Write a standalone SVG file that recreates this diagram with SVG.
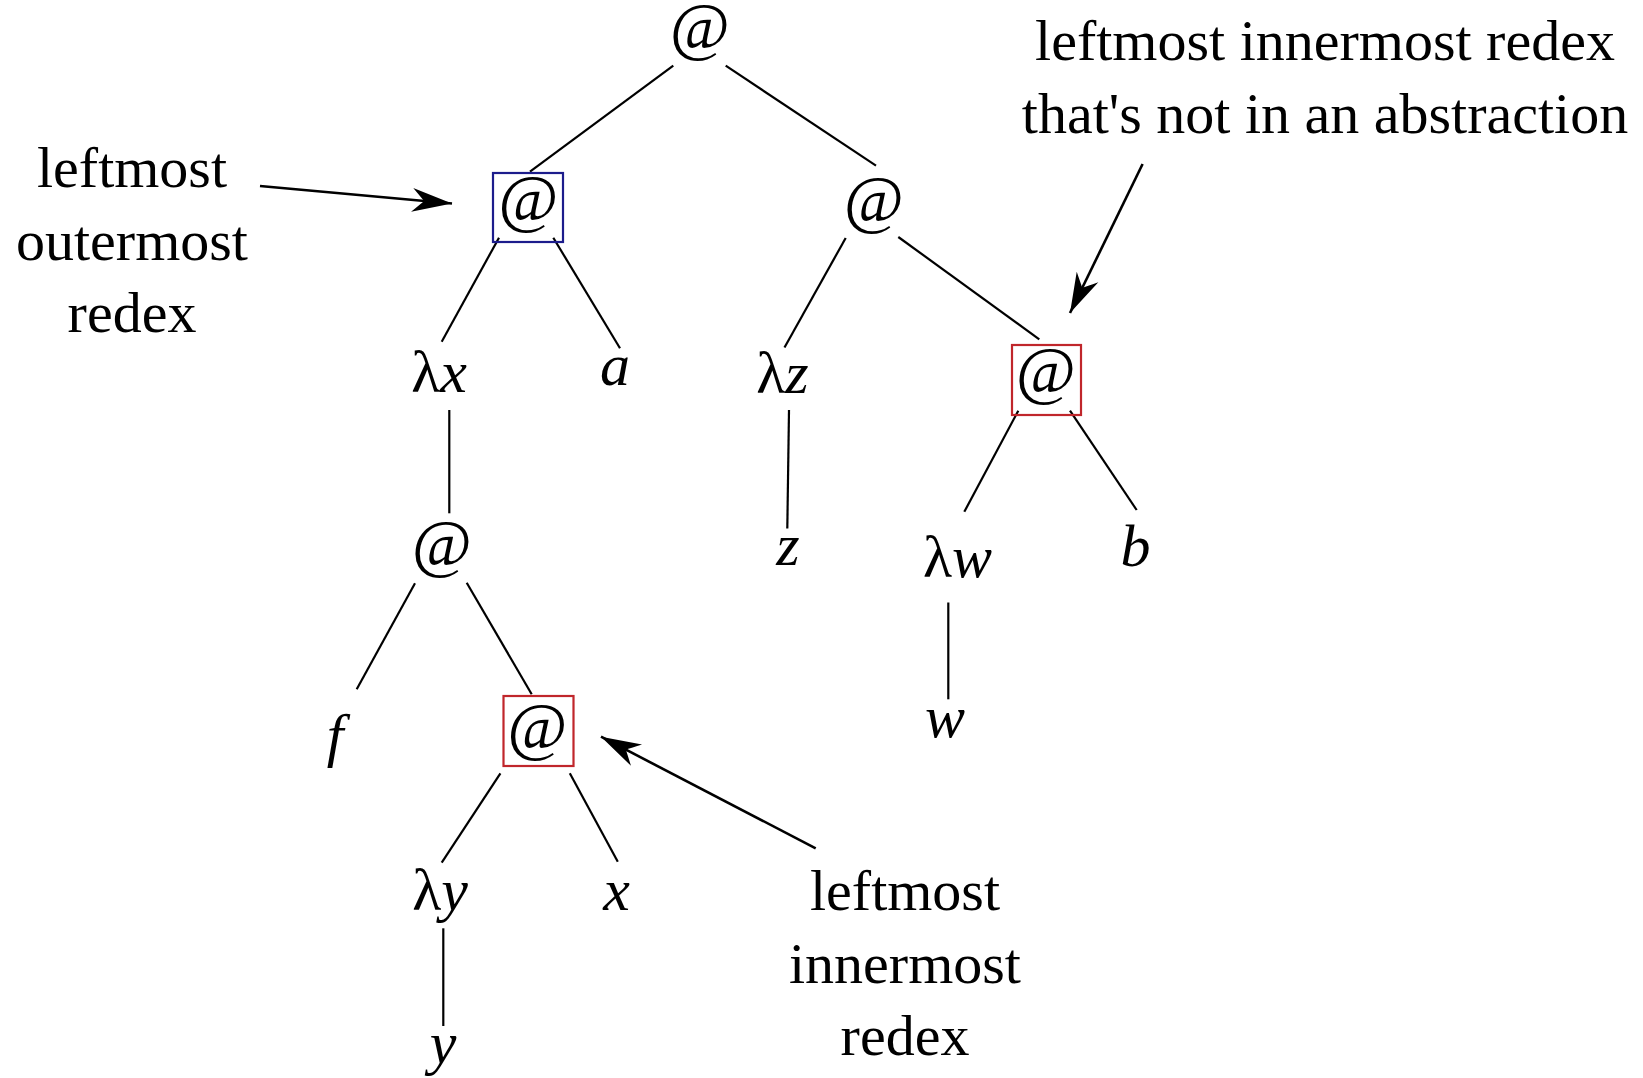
<svg xmlns="http://www.w3.org/2000/svg" width="1643" height="1078" viewBox="0 0 1643 1078">
  <style>
    .at { font-family: "Liberation Serif", "Times New Roman", serif; font-size: 65px; text-anchor: middle; fill: #000; }
    .var { font-family: "Liberation Serif", "Times New Roman", serif; font-size: 60px; text-anchor: middle; fill: #000; }
    .var .it { font-style: italic; }
    .note { font-family: "Liberation Serif", "Times New Roman", serif; font-size: 58px; text-anchor: middle; fill: #000; }
    .edge { stroke: #000; stroke-width: 2.2; fill: none; }
    .pointer { stroke: #000; stroke-width: 2.6; fill: none; marker-end: url(#head); }
    .outer { fill: none; stroke: #1c1c8c; stroke-width: 2.2; }
    .inner { fill: none; stroke: #c0262b; stroke-width: 2.2; }
  </style>
  <defs>
    <marker id="head" markerUnits="userSpaceOnUse" viewBox="-42 -14 44 28" refX="0" refY="0" markerWidth="44" markerHeight="28" orient="auto">
      <path d="M0,0 L-40,-12 Q-31,-3 -28,0 Q-31,3 -40,12 Z" fill="#000"/>
    </marker>
  </defs>
  <rect width="1643" height="1078" fill="#fff"/>

  <!-- tree edges and annotation arrows -->
  <g id="connectors">
    <line class="edge" x1="673.3" y1="65.7" x2="530" y2="171.7"/>
    <line class="edge" x1="725.7" y1="65.7" x2="876" y2="165.7"/>
    <line class="edge" x1="499" y1="237.7" x2="441.7" y2="341.7"/>
    <line class="edge" x1="553.3" y1="237.7" x2="620" y2="348.3"/>
    <line class="edge" x1="845.7" y1="238" x2="784.5" y2="347.5"/>
    <line class="edge" x1="898.3" y1="237" x2="1039.3" y2="339.3"/>
    <line class="edge" x1="449.3" y1="410" x2="449.3" y2="513.3"/>
    <line class="edge" x1="789" y1="410" x2="787.3" y2="528.6"/>
    <line class="edge" x1="1018.3" y1="410.7" x2="964.3" y2="511.8"/>
    <line class="edge" x1="1070" y1="410.7" x2="1136.7" y2="510"/>
    <line class="edge" x1="415" y1="583.3" x2="356.7" y2="689.3"/>
    <line class="edge" x1="466.7" y1="582.7" x2="531.7" y2="694.3"/>
    <line class="edge" x1="948.3" y1="602.5" x2="948.3" y2="699.3"/>
    <line class="edge" x1="500.4" y1="773.3" x2="441.7" y2="862.7"/>
    <line class="edge" x1="569.8" y1="773.3" x2="617.8" y2="861.7"/>
    <line class="edge" x1="443.3" y1="928.3" x2="443.3" y2="1026"/>
    <line class="pointer" x1="260" y1="186" x2="452" y2="203.5"/>
    <line class="pointer" x1="1142.6" y1="164" x2="1070" y2="313"/>
    <line class="pointer" x1="815.7" y1="848.3" x2="601" y2="736.7"/>
  </g>

  <!-- application nodes -->
  <g id="app-root"><text class="at" x="700" y="48">@</text></g>
  <g id="app-left">
    <rect class="outer" x="493" y="173" width="70" height="69"/>
    <text class="at" x="528.5" y="219.5">@</text>
  </g>
  <g id="app-right"><text class="at" x="874" y="220.5">@</text></g>
  <g id="app-right-inner">
    <rect class="inner" x="1012" y="345" width="69" height="70"/>
    <text class="at" x="1046" y="392">@</text>
  </g>
  <g id="app-body"><text class="at" x="442" y="564.7">@</text></g>
  <g id="app-left-inner">
    <rect class="inner" x="503.5" y="696" width="70" height="70"/>
    <text class="at" x="537.5" y="748">@</text>
  </g>

  <!-- abstractions and variables -->
  <g id="lam-x"><text class="var" x="439" y="392">λ<tspan class="it">x</tspan></text></g>
  <g id="var-a"><text class="var" x="615" y="385"><tspan class="it">a</tspan></text></g>
  <g id="lam-z"><text class="var" x="782.5" y="393">λ<tspan class="it">z</tspan></text></g>
  <g id="var-z"><text class="var" x="788" y="565"><tspan class="it">z</tspan></text></g>
  <g id="lam-w"><text class="var" x="957.5" y="577">λ<tspan class="it">w</tspan></text></g>
  <g id="var-b"><text class="var" x="1135.5" y="566"><tspan class="it">b</tspan></text></g>
  <g id="var-f"><text class="var" x="335" y="755"><tspan class="it">f</tspan></text></g>
  <g id="var-w"><text class="var" x="945" y="737"><tspan class="it">w</tspan></text></g>
  <g id="lam-y"><text class="var" x="440" y="910">λ<tspan class="it">y</tspan></text></g>
  <g id="var-x"><text class="var" x="616.5" y="910"><tspan class="it">x</tspan></text></g>
  <g id="var-y"><text class="var" x="443" y="1063"><tspan class="it">y</tspan></text></g>

  <!-- annotations -->
  <g id="note-outermost">
    <text class="note" x="132" y="187">leftmost</text>
    <text class="note" x="132" y="259.5">outermost</text>
    <text class="note" x="132" y="332">redex</text>
  </g>
  <g id="note-not-in-abstraction">
    <text class="note" x="1325" y="60">leftmost innermost redex</text>
    <text class="note" x="1325" y="133">that's not in an abstraction</text>
  </g>
  <g id="note-innermost">
    <text class="note" x="905" y="910">leftmost</text>
    <text class="note" x="905" y="983">innermost</text>
    <text class="note" x="905" y="1055">redex</text>
  </g>
</svg>
